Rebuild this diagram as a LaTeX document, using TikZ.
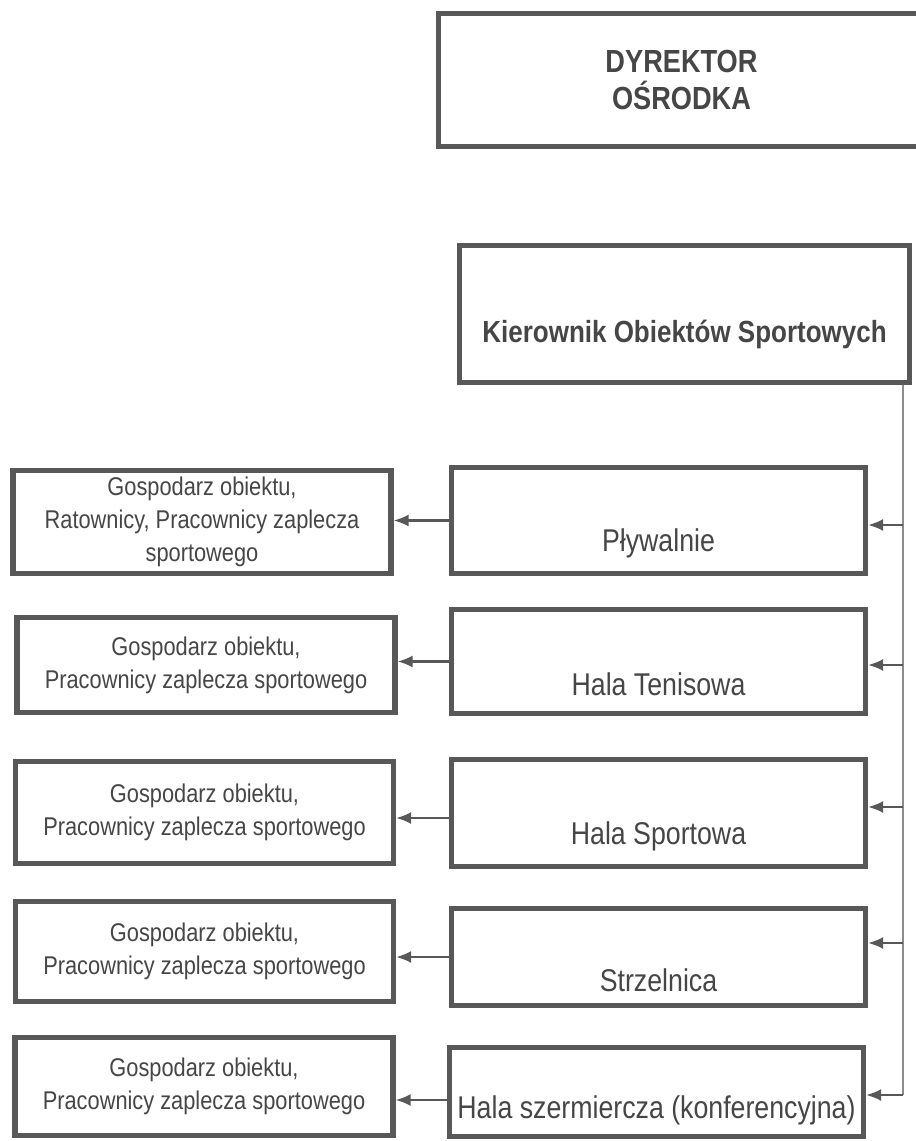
\documentclass[tikz,border=0pt]{standalone}
\usepackage{fontspec}
\newfontfamily\chartfont[FakeStretch=0.85]{Liberation Sans}
\usetikzlibrary{arrows.meta}

\definecolor{inkgray}{HTML}{464646}
\definecolor{linegray}{HTML}{585858}
\definecolor{busgray}{HTML}{8C8C8C}

\tikzset{
  box/.style={draw=linegray, line width=3pt, rectangle, inner sep=0pt},
  leftbox/.style={box, minimum width=7.56cm, align=center, text=inkgray,
    font=\chartfont\fontsize{14.6}{18.8}\selectfont},
  rightbox/.style={box, minimum width=8.28cm},
  rtext/.style={anchor=base, yshift=-0.46cm, text=inkgray,
    font=\chartfont\fontsize{17.9}{21}\selectfont},
  arr/.style={draw=linegray, line width=1.3pt, -{Latex[length=3mm,width=2.4mm]}},
  busline/.style={draw=busgray, line width=0.9pt},
}

\begin{document}
\begin{tikzpicture}[x=0.02cm,y=-0.02cm]
   \useasboundingbox (0,0) rectangle (915,1141);
   \fill[white] (0,0) rectangle (915,1141);

   % top of the chart
   \node[box, minimum width=9.72cm, minimum height=2.66cm, align=center, text=inkgray,
     font=\chartfont\bfseries\fontsize{18.2}{21.6}\selectfont] (dyr) at (681.5,80) {DYREKTOR\\OŚRODKA};
   \node[box, minimum width=9.0cm, minimum height=2.74cm,
     label={[anchor=base, yshift=-0.4cm, text=inkgray,
       font=\chartfont\bfseries\fontsize{17.4}{20}\selectfont]center:{Kierownik Obiektów Sportowych}}] (kier) at (684.5,314) {};

   % facilities
   \node[rightbox, minimum height=2.12cm, label={[rtext]center:{Pływalnie}}] (pyw) at (658.5,520.5) {};
   \node[rightbox, minimum height=2.08cm, label={[rtext]center:{Hala Tenisowa}}] (ten) at (658.5,661.5) {};
   \node[rightbox, minimum height=2.14cm, label={[rtext]center:{Hala Sportowa}}] (spo) at (658.5,813) {};
   \node[rightbox, minimum height=1.94cm, label={[rtext]center:{Strzelnica}}] (strz) at (658.5,957) {};
   \node[rightbox, minimum height=1.78cm, label={[rtext, yshift=0.1cm]center:{Hala szermiercza (konferencyjna)}}] (szer) at (656.5,1092) {};

   % staff
   \node[leftbox, minimum height=2.06cm] (st1) at (202,522) {Gospodarz obiektu,\\Ratownicy, Pracownicy zaplecza\\sportowego};
   \node[leftbox, minimum height=1.90cm] (st2) at (206,665) {Gospodarz obiektu,\\Pracownicy zaplecza sportowego};
   \node[leftbox, minimum height=2.04cm] (st3) at (204.5,812.5) {Gospodarz obiektu,\\Pracownicy zaplecza sportowego};
   \node[leftbox, minimum height=2.00cm] (st4) at (204.5,951.5) {Gospodarz obiektu,\\Pracownicy zaplecza sportowego};
   \node[leftbox, minimum height=1.96cm] (st5) at (204,1086.5) {Gospodarz obiektu,\\Pracownicy zaplecza sportowego};

   % bus on the right
   \coordinate (b1) at (903,525);
   \coordinate (b2) at (903,665);
   \coordinate (b3) at (903,807);
   \coordinate (b4) at (903,943);
   \coordinate (b5) at (903,1095);
   \draw[busline] (kier.south -| b1) -- (b5);

   \draw[arr] (b1) -- (b1 -| pyw.east);
   \draw[arr] (b2) -- (b2 -| ten.east);
   \draw[arr] (b3) -- (b3 -| spo.east);
   \draw[arr] (b4) -- (b4 -| strz.east);
   \draw[arr] (b5) -- (b5 -| szer.east);

   \draw[arr] (pyw.west) -- (pyw.west -| st1.east);
   \draw[arr] (ten.west) -- (ten.west -| st2.east);
   \draw[arr] ([yshift=-0.1cm]spo.west) -- ([yshift=-0.1cm]spo.west -| st3.east);
   \draw[arr] (strz.west) -- (strz.west -| st4.east);
   \draw[arr] ([yshift=-0.16cm]szer.west) -- ([yshift=-0.16cm]szer.west -| st5.east);
 \end{tikzpicture}
\end{document}
